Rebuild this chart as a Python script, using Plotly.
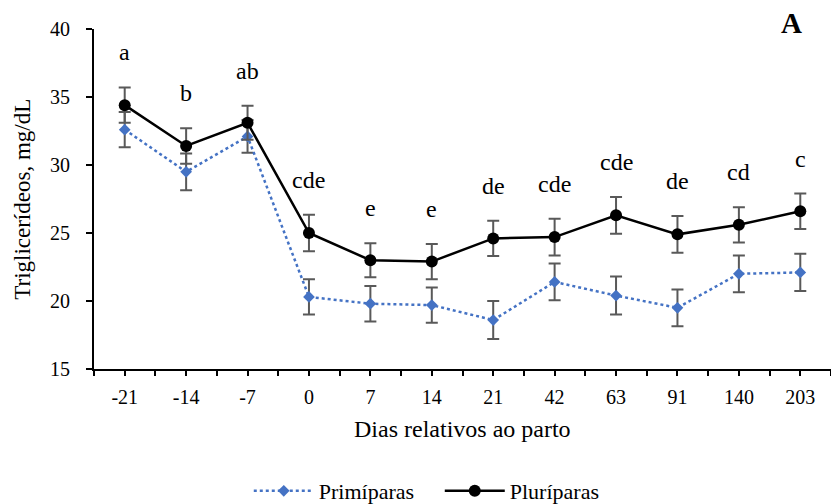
import plotly.graph_objects as go

# Days relative to calving (categorical x axis)
dias = ["-21", "-14", "-7", "0", "7", "14", "21", "42", "63", "91", "140", "203"]

# Mean triglycerides (mg/dL) and standard errors
primiparas = [32.6, 29.5, 32.1, 20.3, 19.8, 19.7, 18.6, 21.4, 20.4, 19.5, 22.0, 22.1]
primiparas_se = [1.3, 1.35, 1.2, 1.3, 1.3, 1.3, 1.4, 1.35, 1.4, 1.35, 1.35, 1.37]
pluriparas = [34.4, 31.4, 33.1, 25.0, 23.0, 22.9, 24.6, 24.7, 26.3, 24.9, 25.6, 26.6]
pluriparas_se = [1.3, 1.3, 1.25, 1.35, 1.25, 1.3, 1.3, 1.35, 1.35, 1.35, 1.3, 1.3]

# Significance letters (over Pluríparas)
letras = ["a", "b", "ab", "cde", "e", "e", "de", "cde", "cde", "de", "cd", "c"]

FONT = "Times New Roman, Liberation Serif, serif"
ERR_COLOR = "#595959"
BLUE = "#4472C4"

x = list(range(len(dias)))
half_ticks = [i * 0.5 - 0.5 for i in range(2 * len(dias) + 1)]
tick_text = [dias[int(v)] if float(v).is_integer() else "" for v in half_ticks]
x_range = [-0.5, len(dias) - 0.5]

fig = go.Figure()

fig.add_trace(go.Scatter(
    x=x, y=primiparas, name="Primíparas", mode="lines+markers",
    line=dict(color=BLUE, width=2.5, dash="dot"),
    marker=dict(symbol="diamond", size=9, color=BLUE),
    error_y=dict(type="data", array=primiparas_se, color=ERR_COLOR,
                 thickness=2, width=6),
))
fig.add_trace(go.Scatter(
    x=x, y=pluriparas, name="Pluríparas", mode="lines+markers",
    line=dict(color="black", width=2.5),
    marker=dict(symbol="circle", size=12, color="black"),
    error_y=dict(type="data", array=pluriparas_se, color=ERR_COLOR,
                 thickness=2, width=6),
))

# Letters above the upper error bar of each Pluríparas point
for xi, m, s, t in zip(x, pluriparas, pluriparas_se, letras):
    fig.add_annotation(x=xi, y=m + s, text=t, showarrow=False,
                       yanchor="bottom", yshift=20,
                       font=dict(family=FONT, size=24, color="black"))

# Panel letter
fig.add_annotation(x=0.946, y=1.017, xref="paper", yref="paper", text="<b>A</b>",
                   showarrow=False, xanchor="center", yanchor="middle",
                   font=dict(family=FONT, size=29, color="black"))

# Y-axis title
fig.add_annotation(x=-0.098, y=0.5, xref="paper", yref="paper",
                   text="Triglicerídeos, mg/dL", textangle=-90, showarrow=False,
                   xanchor="center", yanchor="middle",
                   font=dict(family=FONT, size=23, color="black"))

# X-axis title
fig.add_annotation(x=0.5, y=-0.176, xref="paper", yref="paper",
                   text="Dias relativos ao parto", showarrow=False,
                   xanchor="center", yanchor="middle",
                   font=dict(family=FONT, size=24, color="black"))

fig.update_layout(
    width=831, height=504,
    margin=dict(l=94, r=0, t=29, b=135, autoexpand=False),
    paper_bgcolor="white", plot_bgcolor="white",
    font=dict(family=FONT, size=20, color="black"),
    showlegend=True,
    legend=dict(orientation="h", x=0.21, xanchor="left", y=-0.359, yanchor="middle",
                font=dict(family=FONT, size=22, color="black"),
                itemwidth=60, entrywidth=116, entrywidthmode="pixels",
                bgcolor="rgba(0,0,0,0)"),
    xaxis=dict(
        range=x_range, tickmode="array", tickvals=half_ticks, ticktext=tick_text,
        ticks="outside", ticklen=5, tickwidth=2, tickcolor="black",
        showline=True, linecolor="black", linewidth=2, showgrid=False,
        zeroline=False, ticklabelstandoff=4, automargin=False,
        tickfont=dict(family=FONT, size=20, color="black"),
    ),
    xaxis2=dict(
        range=x_range, overlaying="x", anchor="y", side="bottom",
        tickmode="array", tickvals=half_ticks, showticklabels=False,
        ticks="inside", ticklen=5, tickwidth=2, tickcolor="black",
        showline=False, showgrid=False, zeroline=False, automargin=False,
    ),
    yaxis=dict(
        range=[15, 40], tickmode="linear", tick0=15, dtick=5,
        ticks="outside", ticklen=6, tickwidth=2, tickcolor="black",
        showline=True, linecolor="black", linewidth=2, showgrid=False,
        zeroline=False, ticklabelstandoff=12, automargin=False,
        tickfont=dict(family=FONT, size=20, color="black"),
    ),
)

fig.write_html("out.html")
